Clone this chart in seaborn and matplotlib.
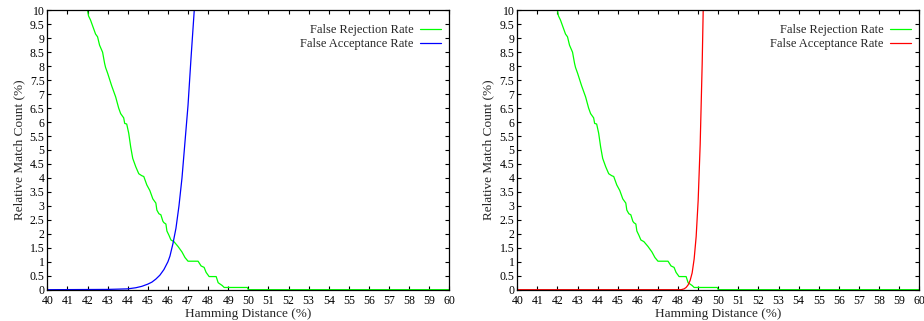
import numpy as np
import pandas as pd
import seaborn as sns
import matplotlib
matplotlib.use('Agg')
import matplotlib.pyplot as plt
from matplotlib.ticker import FuncFormatter

sns.set_style('ticks')
plt.rcParams['font.family'] = ['Liberation Serif', 'DejaVu Serif']

# false rejection rate (same curve in both panels)
frr_hd = [41.95, 42.0, 42.05, 42.15, 42.3, 42.4, 42.5, 42.6, 42.75, 42.85, 42.9,
          43.0, 43.2, 43.4, 43.55, 43.65, 43.8, 43.85, 43.95, 44.05, 44.15, 44.25,
          44.4, 44.55, 44.7, 44.8, 44.95, 45.1, 45.25, 45.4, 45.45, 45.55, 45.65,
          45.75, 45.8, 45.9, 45.95, 46.05, 46.15, 46.3, 46.5, 46.7, 46.85, 47.0,
          47.5, 47.65, 47.8, 47.9, 48.05, 48.4, 48.5, 48.6, 48.7, 48.8, 49.95,
          50.0, 60.0]
frr_val = [10.3, 10.0, 9.8, 9.65, 9.35, 9.15, 9.05, 8.75, 8.5, 8.1, 7.95,
           7.75, 7.3, 6.9, 6.5, 6.3, 6.15, 5.95, 5.93, 5.6, 5.1, 4.7,
           4.4, 4.15, 4.08, 4.05, 3.75, 3.55, 3.25, 3.1, 2.85, 2.72, 2.68,
           2.45, 2.4, 2.35, 2.1, 1.95, 1.78, 1.72, 1.55, 1.35, 1.15, 1.02,
           1.02, 0.85, 0.8, 0.62, 0.47, 0.47, 0.25, 0.2, 0.15, 0.08, 0.08,
           0.0, 0.0]

# false acceptance rate, left panel
far_left_hd = [40.0, 43.0, 43.5, 44.0, 44.4, 44.7, 45.0, 45.2, 45.4, 45.6, 45.8,
               46.0, 46.1, 46.25, 46.4, 46.55, 46.7, 46.85, 47.0, 47.15, 47.31, 47.4]
far_left_val = [0.0, 0.01, 0.02, 0.03, 0.07, 0.12, 0.2, 0.27, 0.38, 0.52, 0.72,
                1.0, 1.2, 1.65, 2.2, 3.0, 4.0, 5.3, 6.6, 8.3, 10.0, 11.5]

# false acceptance rate, right panel
far_right_hd = [40.0, 48.15, 48.3, 48.4, 48.5, 48.6, 48.7, 48.8, 48.9, 49.0,
                49.1, 49.2, 49.25, 49.3]
far_right_val = [0.0, 0.0, 0.03, 0.08, 0.17, 0.33, 0.6, 1.1, 1.9, 3.2,
                 5.2, 8.1, 10.0, 12.0]

fig = plt.figure(figsize=(9.24, 3.21), dpi=100)
ax1 = fig.add_axes([0.0512, 0.0975, 0.4351, 0.8705])
ax2 = fig.add_axes([0.5598, 0.0975, 0.4351, 0.8705])


def draw_panel(ax, far_hd, far_val, far_color):
    sns.lineplot(x=frr_hd, y=frr_val, ax=ax, color='#00ff00', lw=0.9,
                 sort=False, estimator=None, label='False Rejection Rate')
    sns.lineplot(x=far_hd, y=far_val, ax=ax, color=far_color, lw=0.9,
                 sort=False, estimator=None, label='False Acceptance Rate')
    ax.set_xlim(40, 60)
    ax.set_ylim(0, 10)
    ax.set_xticks(np.arange(40, 61, 1))
    ax.set_yticks(np.arange(0, 10.01, 0.5))
    ax.yaxis.set_major_formatter(FuncFormatter(lambda v, p: '%g' % v))
    ax.tick_params(direction='in', length=3, width=0.8, top=True, right=True,
                   labelsize=8.5, colors='black')
    ax.tick_params(axis='x', pad=4)
    ax.tick_params(axis='y', pad=2)
    for s in ax.spines.values():
        s.set_linewidth(0.9)
        s.set_color('black')
    ax.set_xlabel('Hamming Distance (%)', fontsize=9.5, labelpad=0.5)
    ax.set_ylabel('Relative Match Count (%)', fontsize=9.5, labelpad=3.5)
    ax.legend(loc='upper right', bbox_to_anchor=(1.0, 0.9785), frameon=False,
              markerfirst=False, fontsize=9, handlelength=1.7,
              handletextpad=0.5, labelspacing=0.12, borderaxespad=0.25)


draw_panel(ax1, far_left_hd, far_left_val, '#0000ff')
draw_panel(ax2, far_right_hd, far_right_val, '#ff0000')

fig.savefig('out.png', dpi=100)
